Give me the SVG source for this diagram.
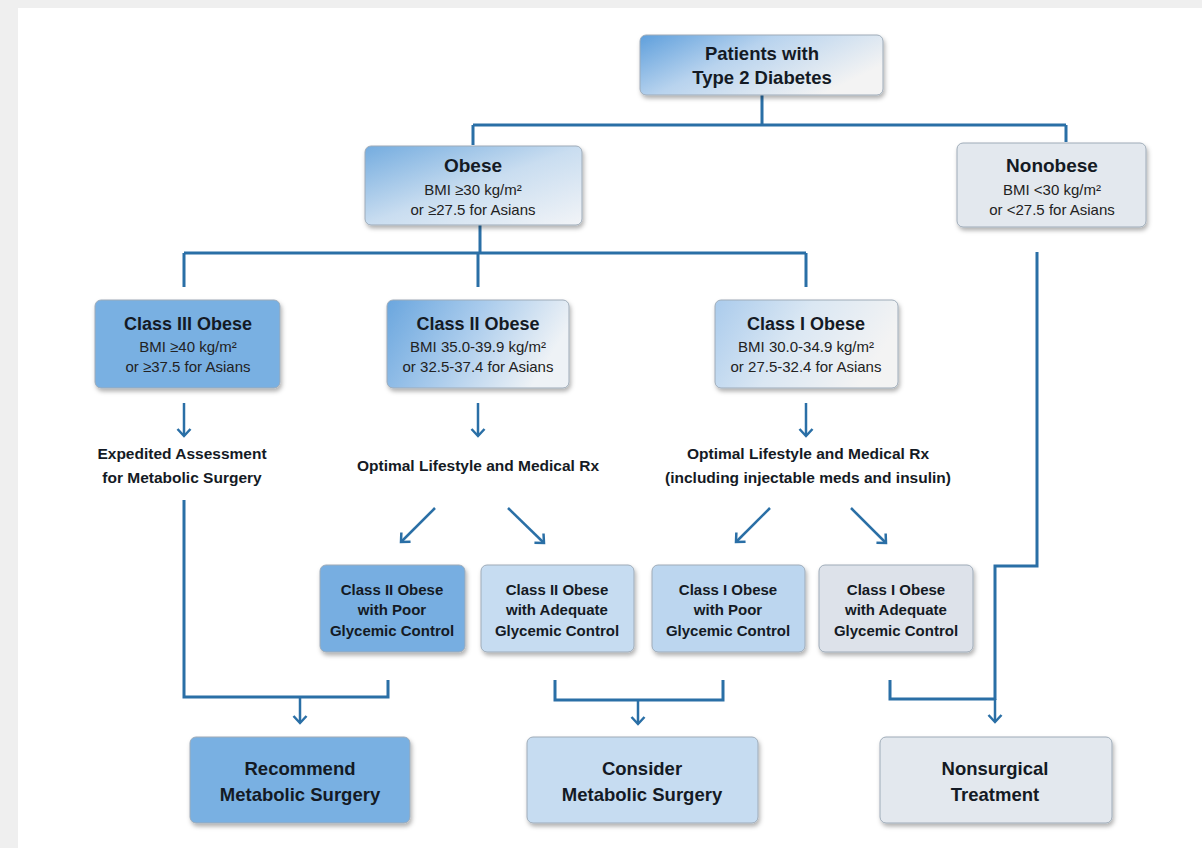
<svg xmlns="http://www.w3.org/2000/svg" width="1202" height="848" viewBox="0 0 1202 848">
<defs>
<style>
.box{stroke:#9eabb8;stroke-width:1;filter:url(#sh)}
.t{font-family:"Liberation Sans",Arial,sans-serif;font-weight:bold;fill:#141a24;text-anchor:middle}
.s{font-family:"Liberation Sans",Arial,sans-serif;fill:#222;text-anchor:middle;font-size:15px}
.c{fill:none;stroke:#2a6fa6;stroke-width:3}
.a{fill:none;stroke:#2a6fa6;stroke-width:2.5;marker-end:url(#ah)}
</style>
<filter id="sh" x="-10%" y="-10%" width="125%" height="130%">
<feDropShadow dx="1.5" dy="3" stdDeviation="2" flood-color="#000" flood-opacity="0.3"/>
</filter>
<marker id="ah" markerUnits="userSpaceOnUse" markerWidth="20" markerHeight="20" viewBox="-10 -10 20 20" refX="0" refY="0" orient="auto">
<path d="M-7,-6.5 L0,0 L-7,6.5" fill="none" stroke="#2a6fa6" stroke-width="2.5"/>
</marker>
<linearGradient id="gP" x1="0" y1="0" x2="1" y2="0.5">
<stop offset="0" stop-color="#5e9fdc"/><stop offset="0.45" stop-color="#b8d3ee"/><stop offset="1" stop-color="#f3f3f3"/>
</linearGradient>
<linearGradient id="gO" x1="0" y1="0" x2="1" y2="1">
<stop offset="0" stop-color="#74acdf"/><stop offset="0.5" stop-color="#c9ddf0"/><stop offset="1" stop-color="#f2f4f7"/>
</linearGradient>
<linearGradient id="g2" x1="0" y1="0" x2="1" y2="0.3">
<stop offset="0" stop-color="#6aa6de"/><stop offset="0.5" stop-color="#a9cbec"/><stop offset="1" stop-color="#eef2f6"/>
</linearGradient>
<linearGradient id="g1" x1="0" y1="0" x2="1" y2="0.3">
<stop offset="0" stop-color="#aacbec"/><stop offset="0.5" stop-color="#dae7f3"/><stop offset="1" stop-color="#f3f3f3"/>
</linearGradient>
</defs>
<rect x="0" y="0" width="1202" height="848" fill="#efefef"/>
<rect x="18" y="8" width="1184" height="840" fill="#ffffff"/>

<g id="connectors">
<path class="c" d="M762,95 V125 M473,125 H1066 M473,125 V145 M1066,125 V142"/>
<path class="c" d="M480,225 V253 M184,253 H806 M184,253 V287 M478,253 V287 M806,253 V287"/>
<path class="a" d="M184,403 V436"/>
<path class="a" d="M478,403 V436"/>
<path class="a" d="M806,403 V436"/>
<path class="a" d="M435,508 L401,542"/>
<path class="a" d="M508,508 L544,543"/>
<path class="a" d="M770,508 L736,542"/>
<path class="a" d="M851,508 L886,543"/>
<path class="c" d="M184,500 V697 H388 V680"/>
<path class="a" d="M300,697 V723"/>
<path class="c" d="M555,680 V700 H723 V680"/>
<path class="a" d="M638,700 V724"/>
<path class="c" d="M1037,252 V566 H995 V700 M890,680 V699 H995"/>
<path class="a" d="M995,699 V722"/>
</g>

<g id="n-patients">
<rect class="box" x="640" y="35" width="243" height="60" rx="6" fill="url(#gP)"/>
<text class="t" x="762" y="60" font-size="18.5">Patients with</text>
<text class="t" x="762" y="84" font-size="18.5">Type 2 Diabetes</text>
</g>
<g id="n-obese">
<rect class="box" x="365" y="146" width="217" height="79" rx="6" fill="url(#gO)"/>
<text class="t" x="473" y="172" font-size="19">Obese</text>
<text class="s" x="473" y="195">BMI ≥30 kg/m²</text>
<text class="s" x="473" y="215">or ≥27.5 for Asians</text>
</g>
<g id="n-nonobese">
<rect class="box" x="957" y="143" width="189" height="84" rx="6" fill="#e3e8ee" stroke="none"/>
<text class="t" x="1052" y="172" font-size="19">Nonobese</text>
<text class="s" x="1052" y="195">BMI &lt;30 kg/m²</text>
<text class="s" x="1052" y="215">or &lt;27.5 for Asians</text>
</g>
<g id="n-class3">
<rect class="box" x="95" y="300" width="185" height="88" rx="6" fill="#79b0e2"/>
<text class="t" x="188" y="330" font-size="18">Class III Obese</text>
<text class="s" x="188" y="352">BMI ≥40 kg/m²</text>
<text class="s" x="188" y="372">or ≥37.5 for Asians</text>
</g>
<g id="n-class2">
<rect class="box" x="387" y="300" width="182" height="88" rx="6" fill="url(#g2)"/>
<text class="t" x="478" y="330" font-size="18">Class II Obese</text>
<text class="s" x="478" y="352">BMI 35.0-39.9 kg/m²</text>
<text class="s" x="478" y="372">or 32.5-37.4 for Asians</text>
</g>
<g id="n-class1">
<rect class="box" x="715" y="300" width="183" height="88" rx="6" fill="url(#g1)"/>
<text class="t" x="806" y="330" font-size="18">Class I Obese</text>
<text class="s" x="806" y="352">BMI 30.0-34.9 kg/m²</text>
<text class="s" x="806" y="372">or 27.5-32.4 for Asians</text>
</g>
<g id="n-expedited">
<text class="t" x="182" y="459" font-size="15.5">Expedited Assessment</text>
<text class="t" x="182" y="483" font-size="15.5">for Metabolic Surgery</text>
</g>
<g id="n-optimal2">
<text class="t" x="478" y="471" font-size="15.5">Optimal Lifestyle and Medical Rx</text>
</g>
<g id="n-optimal1">
<text class="t" x="808" y="459" font-size="15.5">Optimal Lifestyle and Medical Rx</text>
<text class="t" x="808" y="483" font-size="15.5">(including injectable meds and insulin)</text>
</g>
<g id="n-c2poor">
<rect class="box" x="320" y="565" width="145" height="87" rx="6" fill="#77aee1"/>
<text class="t" x="392" y="595" font-size="15">Class II Obese</text>
<text class="t" x="392" y="615" font-size="15">with Poor</text>
<text class="t" x="392" y="636" font-size="15">Glycemic Control</text>
</g>
<g id="n-c2adequate">
<rect class="box" x="481" y="565" width="153" height="87" rx="6" fill="#c6dcf1"/>
<text class="t" x="557" y="595" font-size="15">Class II Obese</text>
<text class="t" x="557" y="615" font-size="15">with Adequate</text>
<text class="t" x="557" y="636" font-size="15">Glycemic Control</text>
</g>
<g id="n-c1poor">
<rect class="box" x="652" y="565" width="153" height="87" rx="6" fill="#bcd6ef"/>
<text class="t" x="728" y="595" font-size="15">Class I Obese</text>
<text class="t" x="728" y="615" font-size="15">with Poor</text>
<text class="t" x="728" y="636" font-size="15">Glycemic Control</text>
</g>
<g id="n-c1adequate">
<rect class="box" x="819" y="565" width="154" height="87" rx="6" fill="#dde2ea" stroke="none"/>
<text class="t" x="896" y="595" font-size="15">Class I Obese</text>
<text class="t" x="896" y="615" font-size="15">with Adequate</text>
<text class="t" x="896" y="636" font-size="15">Glycemic Control</text>
</g>
<g id="n-recommend">
<rect class="box" x="190" y="737" width="220" height="86" rx="6" fill="#79b0e2"/>
<text class="t" x="300" y="775" font-size="18.5">Recommend</text>
<text class="t" x="300" y="801" font-size="18.5">Metabolic Surgery</text>
</g>
<g id="n-consider">
<rect class="box" x="527" y="737" width="231" height="86" rx="6" fill="#c6dcf1"/>
<text class="t" x="642" y="775" font-size="18.5">Consider</text>
<text class="t" x="642" y="801" font-size="18.5">Metabolic Surgery</text>
</g>
<g id="n-nonsurgical">
<rect class="box" x="880" y="737" width="232" height="86" rx="6" fill="#e3e8ee" stroke="none"/>
<text class="t" x="995" y="775" font-size="18.5">Nonsurgical</text>
<text class="t" x="995" y="801" font-size="18.5">Treatment</text>
</g>
</svg>
